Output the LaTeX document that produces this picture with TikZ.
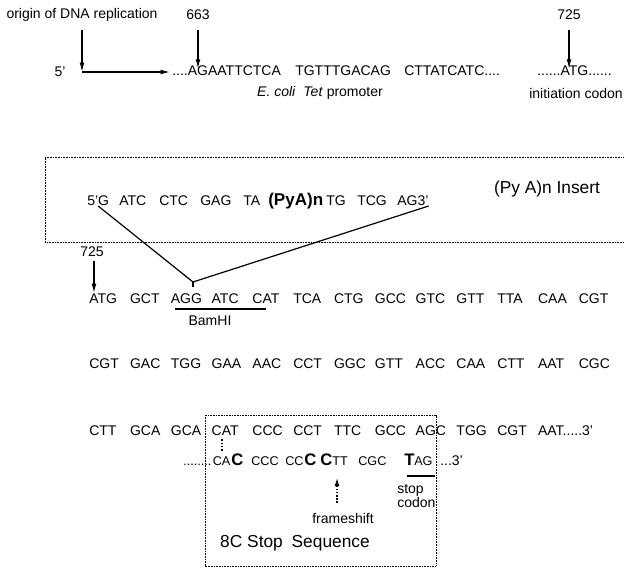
\documentclass[tikz,border=0pt]{standalone}
\usepackage{fontspec}
\setmainfont{Liberation Sans}
\usetikzlibrary{arrows.meta}
\begin{document}
\begin{tikzpicture}[x=0.75pt,y=-0.75pt,
  txt/.style={inner sep=0pt, font=\fontsize{10.5}{12}\selectfont},
  seq/.style={txt, anchor=base west},
  smseq/.style={inner sep=0pt, anchor=base west, font=\fontsize{9.5}{11}\selectfont},
  bgseq/.style={inner sep=0pt, anchor=base west, font=\fontsize{12.5}{14}\selectfont\bfseries},
  big/.style={inner sep=0pt, font=\fontsize{13}{15}\selectfont},
  arr/.style={line width=0.9pt, -{Latex[length=7pt,width=3.6pt]}},
  ln/.style={line width=0.9pt},
  dotbox/.style={line width=0.7pt, dash pattern=on 0.7pt off 0.5pt},
  dotln/.style={line width=0.9pt, dash pattern=on 1.2pt off 1.2pt}]
\useasboundingbox (0,0) rectangle (624,570);

% ---------- top line ----------
\node[txt] (origin) at (82,15) {origin of DNA replication};
\node[txt] (n663) at (198,15) {663};
\node[txt] (n725a) at (569,15) {725};
\node[txt] (five) at (60,72) {5'};
\node[seq] (ts1) at (172,76) {....AGAATTCTCA};
\node[seq] (ts2) at (295,76) {TGTTTGACAG};
\node[seq] (ts3) at (404,76) {CTTATCATC....};
\node[txt] (prom) at (320,93) {\textit{E. coli}\ \ \textit{Tet} promoter};
\node[seq] (atg) at (537,76) {......ATG......};
\node[txt] (init) at (576,93) {initiation codon};
\coordinate (o1) at (82,72);
\draw[arr] ([yshift=-6pt]origin.south) -- (o1);
\draw[arr, shorten >=1.5pt] (o1) -- (ts1.west |- o1);
\draw[arr] ([yshift=-7pt]n663.south) -- ([yshift=-2pt]n663.south |- ts1.north);
\draw[arr] ([yshift=-7pt]n725a.south) -- ([yshift=-2pt]n725a.south |- atg.north);

% ---------- insert box ----------
\draw[dotbox] (630,157) -- (45,157) -- (45,242) -- (630,242);
\node[seq] (i1) at (87,206) {5'G};
\node[seq] (i2) at (119,206) {ATC};
\node[seq] (i3) at (159,206) {CTC};
\node[seq] (i4) at (200,206) {GAG};
\node[seq] (i5) at (243,206) {TA};
\node[inner sep=0pt, anchor=base west, font=\fontsize{12.8}{14}\selectfont\bfseries] (i6) at (268,206) {(PyA)n};
\node[seq] (i7) at (326,206) {TG};
\node[seq] (i8) at (357,206) {TCG};
\node[seq] (i9) at (397,206) {AG3'};
\node[big] (ins) at (547,189) {(Py A)n Insert};

% ---------- row 1 ----------
\foreach \c [count=\i from 0] in {ATG,GCT,AGG,ATC,CAT,TCA,CTG,GCC,GTC,GTT,TTA,CAA,CGT}
  \node[seq] (ra\i) at ({89+40.8*\i},303) {\c};
\node[txt] (n725b) at (92,252) {725};
\draw[arr] ([xshift=1.5pt,yshift=-3pt]n725b.south) -- ([xshift=1.5pt]n725b.south |- ra0.north);
\coordinate (apex) at (193,282);
\draw[ln] (i1.base) -- (apex) -- (i9.base east);
\draw[ln] (apex) -- ++(0,5);
\node[txt] (bam) at (210,321) {BamHI};
\coordinate (bamL) at (175,309);
\coordinate (bamR) at (266,309);
\draw[ln] (bamL) -- (bamR);

% ---------- row 2 ----------
\foreach \c [count=\i from 0] in {CGT,GAC,TGG,GAA,AAC,CCT,GGC,GTT,ACC,CAA,CTT,AAT,CGC}
  \node[seq] (rb\i) at ({89+40.8*\i},368) {\c};

% ---------- row 3 ----------
\foreach \c [count=\i from 0] in {CTT,GCA,GCA,CAT,CCC,CCT,TTC,GCC,AGC,TGG,CGT}
  \node[seq] (rc\i) at ({89+40.8*\i},435) {\c};
\node[seq] (rc11) at ({89+40.8*11},435) {AAT.....3'};

% ---------- stop box ----------
\draw[dotbox] (205,415) rectangle (436,566);
\draw[dotln] ([yshift=-3pt]rc3.south -| 222,0) -- (222,452);

% ---------- row 4 ----------
\node[smseq] (d1) at (183,465) {........};
\node[smseq] (d2) at (212.5,465) {CA};
\node[bgseq] (d3) at (231,465) {C};
\node[smseq] (d4) at (251,465) {CCC};
\node[smseq] (d5) at (285,465) {CC};
\node[bgseq] (d6) at (304,465) {C};
\node[bgseq] (d7) at (320,465) {C};
\node[smseq] (d8) at (332,465) {TT};
\node[smseq] (d9) at (358,465) {CGC};
\node[bgseq] (d10) at (404,465) {T};
\node[smseq] (d11) at (414,465) {AG};
\node[seq] (d12) at (440,465) {...3'};
\coordinate (tagL) at (407,476);
\coordinate (tagR) at (435,476);
\draw[line width=1.4pt] (tagL) -- (tagR);
\node[inner sep=0pt, anchor=north west, align=left, font=\fontsize{10.5}{9.75}\selectfont] (stopc) at (397,484) {stop\\codon};
\node[txt] (fs) at (343,518) {frameshift};
\coordinate (fsA) at (337,503);
\coordinate (fsB) at (337,478);
\draw[dotln, -{Latex[length=6pt,width=3.6pt]}] (fsA) -- (fsB);
\node[big] (stopseq) at (295,543) {8C Stop\hspace{3pt} Sequence};
\end{tikzpicture}
\end{document}
